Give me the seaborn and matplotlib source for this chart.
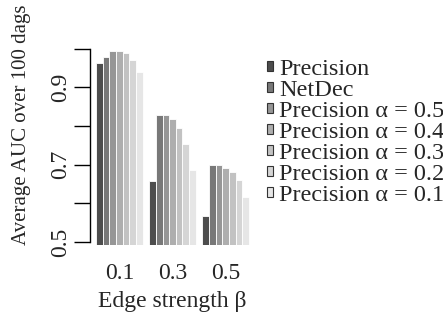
import matplotlib
matplotlib.use("Agg")
import matplotlib.pyplot as plt
import numpy as np
import pandas as pd
import seaborn as sns

# values
BETAS = ["0.1", "0.3", "0.5"]
METHODS = [
    "Precision",
    "NetDec",
    "Precision \u03b1 = 0.5",
    "Precision \u03b1 = 0.4",
    "Precision \u03b1 = 0.3",
    "Precision \u03b1 = 0.2",
    "Precision \u03b1 = 0.1",
]
AUC_01 = [0.964, 0.979, 0.995, 0.995, 0.988, 0.972, 0.940]
AUC_03 = [0.658, 0.829, 0.829, 0.818, 0.795, 0.754, 0.685]
AUC_05 = [0.567, 0.699, 0.699, 0.692, 0.680, 0.660, 0.616]
GRAYS = ["#4d4d4d", "#787878", "#969696", "#aeaeae", "#c2c2c2", "#d5d5d5", "#e6e6e6"]

rows = []
for beta, vals in zip(BETAS, [AUC_01, AUC_03, AUC_05]):
    for m, v in zip(METHODS, vals):
        rows.append({"beta": beta, "method": m, "auc": v})
df = pd.DataFrame(rows)

sns.set_style("white")
plt.rcParams["font.family"] = ["Liberation Serif", "DejaVu Serif"]
FS = 17

fig = plt.figure(figsize=(4.43, 3.26), dpi=100)
ax = fig.add_axes([90 / 443, 1 - 245 / 326, 165 / 443, 204 / 326])

sns.barplot(
    data=df, x="beta", y="auc", hue="method", hue_order=METHODS,
    order=BETAS, palette=GRAYS, width=0.875, gap=0, ax=ax,
    edgecolor="white", linewidth=0.6, errorbar=None, legend=False,
)

ax.set_xlim(-0.5525, 2.5525)
ax.set_ylim(0.492, 1.02)
ax.set_yticks([0.5, 0.6, 0.7, 0.8, 0.9, 1.0])
ax.set_yticklabels(["0.5", "", "0.7", "", "0.9", ""], rotation=90, va="center", fontsize=FS)
ax.tick_params(axis="y", left=True, length=11.5, width=1, pad=2, color="black")
ax.tick_params(axis="x", length=0, pad=13, labelsize=FS)

for s in ["top", "right", "bottom"]:
    ax.spines[s].set_visible(False)
ax.spines["left"].set_bounds(0.5, 1.0)
ax.spines["left"].set_color("black")
ax.spines["left"].set_linewidth(1)

ax.set_xlabel("Edge strength \u03b2", fontsize=FS, labelpad=5)
ax.set_ylabel("Average AUC over 100 dags", fontsize=15)
ax.yaxis.set_label_coords(-0.355, 0.588)

handles = [
    plt.Rectangle((0, 0), 1, 1, facecolor=c, edgecolor="#333333", linewidth=0.8)
    for c in GRAYS
]
fig.legend(
    handles, METHODS, loc="upper left", bbox_to_anchor=(267 / 443, 1 - 59 / 326),
    frameon=False, fontsize=17.5, handlelength=0.24, handleheight=0.24,
    handletextpad=0.25, labelspacing=0.0, borderpad=0, borderaxespad=0,
)

fig.savefig("out.png", dpi=100)
